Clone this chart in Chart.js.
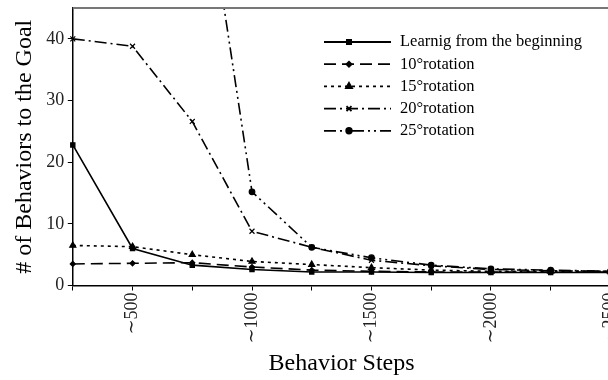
<!DOCTYPE html>
<html>
<head>
<meta charset="utf-8">
<script src="https://cdn.jsdelivr.net/npm/chart.js@4"></script>
<style>
  html, body { margin: 0; padding: 0; background: #fff; overflow: hidden; }
  #wrap { width: 634px; height: 380px; }
</style>
</head>
<body>
<div id="wrap"><canvas id="chart" width="634" height="380"></canvas></div>
<script>
// ===== data =====
const steps = ['∼250', '∼500', '∼750', '∼1000', '∼1250', '∼1500', '∼1750', '∼2000', '∼2250', '∼2500'];
const fromBeginning = [22.8, 6.0, 3.3, 2.6, 2.2, 2.2, 2.1, 2.1, 2.1, 2.1];
const rot10 = [3.5, 3.6, 3.7, 3.0, 2.5, 2.3, 2.2, 2.2, 2.2, 2.2];
const rot15 = [6.5, 6.3, 5.0, 3.9, 3.4, 2.9, 2.5, 2.3, 2.3, 2.3];
const rot20 = [40.0, 38.8, 26.6, 8.8, 6.2, 4.1, 3.2, 2.6, 2.4, 2.3];
const rot25 = [null, null, 79, 15.2, 6.2, 4.5, 3.3, 2.7, 2.5, 2.3];
const yTicks = [0, 10, 20, 30, 40];

const serif = "'Liberation Serif', 'DejaVu Serif', serif";

function series(label, data, dash, pointStyle, radius) {
    return {
        label: label,
        data: data,
        borderColor: '#000',
        backgroundColor: '#000',
        borderWidth: 1.6,
        borderDash: dash,
        pointStyle: pointStyle,
        pointRadius: radius,
        pointBorderWidth: 1.2,
        pointBorderColor: '#000',
        pointBackgroundColor: '#000',
        tension: 0,
        spanGaps: false
    };
}

// gray line on top of the plot
const topBorder = {
    id: 'topBorder',
    afterDraw(chart) {
        const { ctx, chartArea } = chart;
        ctx.save();
        ctx.strokeStyle = '#777';
        ctx.lineWidth = 2;
        ctx.beginPath();
        ctx.moveTo(chartArea.left, chartArea.top);
        ctx.lineTo(chartArea.right + 30, chartArea.top);
        ctx.stroke();
        ctx.restore();
    }
};

// legend drawn inside the plot
const innerLegend = {
    id: 'innerLegend',
    afterDraw(chart) {
        const ctx = chart.ctx;
        const x0 = 324, x1 = 391, tx = 400;
        let y = 42;
        ctx.save();
        chart.data.datasets.forEach(ds => {
            ctx.strokeStyle = '#000';
            ctx.lineWidth = 1.8;
            ctx.setLineDash(ds.borderDash);
            ctx.beginPath();
            ctx.moveTo(x0, y);
            ctx.lineTo(x1, y);
            ctx.stroke();
            ctx.setLineDash([]);
            Chart.helpers.drawPoint(ctx, {
                pointStyle: ds.pointStyle,
                radius: ds.pointRadius,
                borderWidth: 1.2,
                rotation: 0
            }, x0 + 25, y);
            ctx.fillStyle = '#000';
            ctx.font = "16.5px " + serif;
            ctx.textBaseline = 'middle';
            ctx.fillText(ds.label, tx, y);
            y += 22.2;
        });
        ctx.restore();
    }
};

new Chart(document.getElementById('chart'), {
    type: 'line',
    data: {
        labels: steps,
        datasets: [
            series('Learnig from the beginning', fromBeginning, [], 'rect', 3),
            series('10°rotation', rot10, [12, 6], 'rectRot', 2.5),
            series('15°rotation', rot15, [3, 4], 'triangle', 3.5),
            series('20°rotation', rot20, [12, 4, 2, 4], 'crossRot', 3.5),
            series('25°rotation', rot25, [12, 4, 2, 4, 2, 4], 'circle', 2.8)
        ]
    },
    options: {
        responsive: false,
        animation: false,
        layout: { padding: { top: 8, right: 0, left: 10, bottom: 2 } },
        plugins: {
            legend: { display: false },
            tooltip: { enabled: false }
        },
        scales: {
            x: {
                offset: false,
                grid: { display: true, drawOnChartArea: false, tickLength: 5, color: '#000' },
                border: { color: '#000', width: 1.5 },
                ticks: {
                    autoSkip: false,
                    minRotation: 90,
                    maxRotation: 90,
                    color: '#222',
                    padding: 2,
                    font: { family: serif, size: 18 },
                    callback: (v, i) => (i % 2 === 1 ? steps[i] : '')
                },
                title: {
                    display: true,
                    text: 'Behavior Steps',
                    color: '#000',
                    font: { family: serif, size: 24 },
                    padding: { top: 3.6, bottom: 0 }
                }
            },
            y: {
                min: 0,
                max: 45,
                grid: { display: true, drawOnChartArea: false, tickLength: 5, color: '#000' },
                border: { color: '#000', width: 1.5 },
                afterBuildTicks: axis => { axis.ticks = yTicks.map(v => ({ value: v })); },
                ticks: {
                    color: '#222',
                    padding: 3.5,
                    font: { family: serif, size: 18, lineHeight: 0.5 }
                },
                title: {
                    display: true,
                    text: '# of Behaviors to the Goal',
                    color: '#000',
                    font: { family: serif, size: 24 },
                    padding: { top: 0, bottom: 4 }
                }
            }
        }
    },
    plugins: [topBorder, innerLegend]
});
</script>
</body>
</html>
